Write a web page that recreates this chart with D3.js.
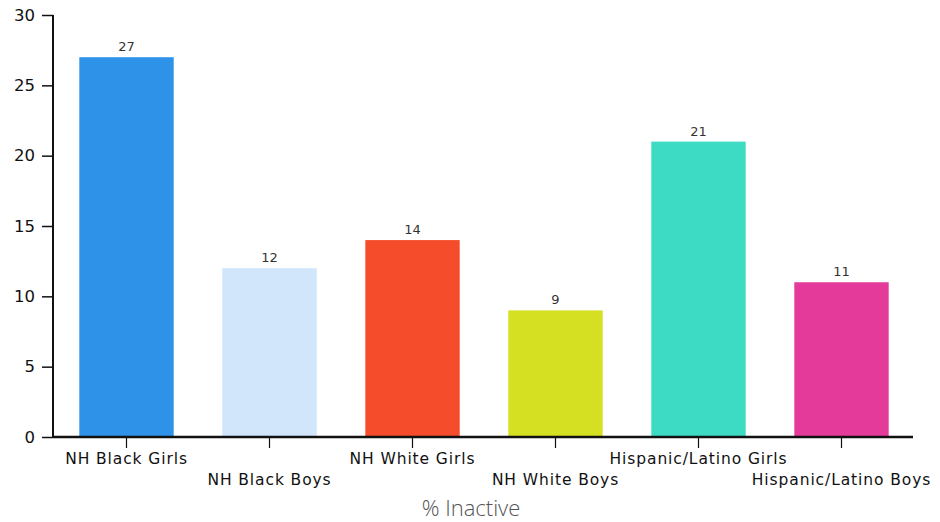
<!DOCTYPE html>
<html><head><meta charset="utf-8">
<script src="https://cdn.jsdelivr.net/npm/d3@7"></script>
<style>body{margin:0;background:#fff}</style>
</head><body>
<svg id="c" width="940" height="522"></svg>
<script>
const categories = ["NH Black Girls","NH Black Boys","NH White Girls","NH White Boys","Hispanic/Latino Girls","Hispanic/Latino Boys"];
const values = [27,12,14,9,21,11];
const colors = ["#2E93E8","#D1E6FA","#F54D2C","#D6E022","#3DDBC3","#E43A9A"];
const yTicks = [0,5,10,15,20,25,30];
const xTitle = "% Inactive";

const svg = d3.select("#c");
const x = d3.scaleBand().domain(categories).range([55,913]).paddingInner(0.34).paddingOuter(0.17);
const y = d3.scaleLinear().domain([0,30]).range([437,15]);

svg.selectAll("rect").data(values).join("rect")
  .attr("x",(d,i)=>x(categories[i])).attr("width",x.bandwidth())
  .attr("y",d=>y(d)).attr("height",d=>y(0)-y(d))
  .attr("fill",(d,i)=>colors[i]);

svg.selectAll("text.val").data(values).join("text").attr("class","val")
  .attr("x",(d,i)=>x(categories[i])+x.bandwidth()/2).attr("y",d=>y(d)-6)
  .attr("text-anchor","middle").attr("font-family","DejaVu Sans").attr("font-size",13)
  .attr("fill","#333").text(d=>d);

const ya = svg.append("g").attr("transform","translate(53,0)")
  .call(d3.axisLeft(y).tickValues(yTicks).tickSize(11).tickPadding(7));
ya.select(".domain").attr("stroke","#111").attr("stroke-width",2).attr("d","M0,15V438");
ya.selectAll(".tick line").attr("stroke","#111").attr("stroke-width",1.5);
ya.selectAll("text").attr("font-family","DejaVu Sans").attr("font-size",16.5).attr("fill","#111");

const xa = svg.append("g").attr("transform","translate(0,437)")
  .call(d3.axisBottom(x).tickSize(11).tickSizeOuter(0));
xa.select(".domain").attr("stroke","#111").attr("stroke-width",2.5).attr("d","M53,0H913");
xa.selectAll(".tick line").attr("stroke","#111").attr("stroke-width",1.2);
xa.selectAll("text").attr("font-family","DejaVu Sans").attr("font-size",15.5).attr("letter-spacing",0.9)
  .attr("fill","#111")
  .attr("y",(d,i)=> i%2===0 ? 16 : 37).attr("dy","0.71em");

svg.append("text").attr("x",471).attr("y",516).attr("text-anchor","middle")
  .attr("font-family","Open Sans").attr("font-size",22).attr("font-weight",300).attr("fill","#555").text(xTitle);
</script>
</body></html>
